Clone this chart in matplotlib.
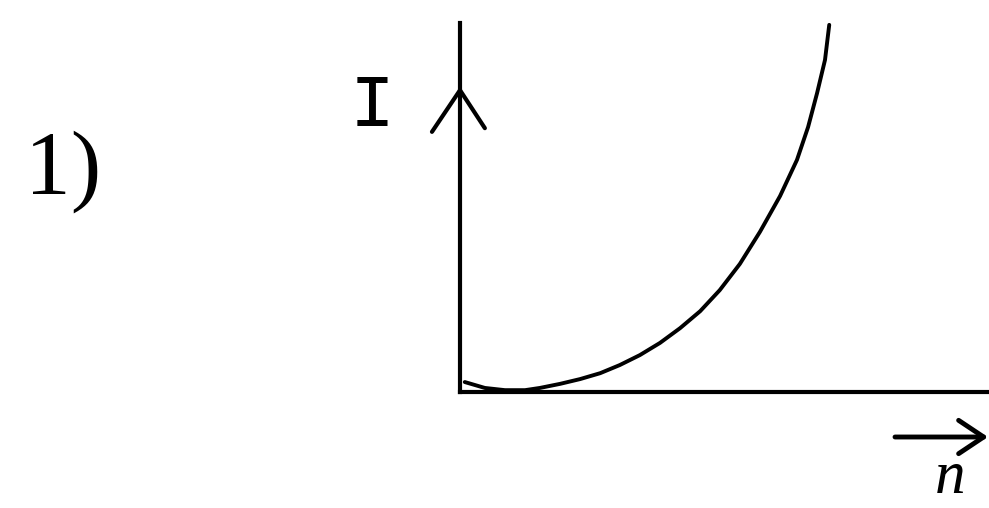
import matplotlib.pyplot as plt

# curve (n across, I up, both on a 0..10 scale)
n_vals = [0.09, 0.47, 0.85, 1.23, 1.51, 1.89, 2.27, 2.65, 3.02, 3.40, 3.78,
          4.16, 4.54, 4.91, 5.29, 5.67, 6.05, 6.37, 6.58, 6.75, 6.90, 6.98]
i_vals = [0.27, 0.11, 0.05, 0.05, 0.11, 0.22, 0.35, 0.51, 0.73, 1.00, 1.33,
          1.73, 2.19, 2.76, 3.47, 4.34, 5.31, 6.29, 7.18, 8.10, 9.00, 9.95]

# chevron drawn part-way up the I axis
arrow_n = [-0.53, 0.0, 0.47]
arrow_i = [7.05, 8.18, 7.15]

W, H = 989, 508
fig = plt.figure(figsize=(W / 100, H / 100), dpi=100)
ax = fig.add_axes([460 / W, (H - 392) / H, (W - 460) / W, (392 - 23) / H])
ax.plot(n_vals, i_vals, color="black", lw=2.8,
        solid_capstyle="round", solid_joinstyle="round")
ax.plot(arrow_n, arrow_i, color="black", lw=3, clip_on=False,
        solid_capstyle="round", solid_joinstyle="miter")
ax.set_xlim(0, 10)
ax.set_ylim(0, 10)
for side in ["top", "right"]:
    ax.spines[side].set_visible(False)
for side in ["left", "bottom"]:
    ax.spines[side].set_linewidth(3)
ax.set_xticks([])
ax.set_yticks([])

fig.text(63 / W, 1 - 172 / H, "1)", fontsize=66, family="Liberation Serif",
         ha="center", va="center")
fig.text(372 / W, 1 - 106 / H, "I", fontsize=54, family="Liberation Mono",
         ha="center", va="center")
fig.text(950 / W, 1 - 493 / H, "n", fontsize=44, family="Liberation Serif",
         style="italic", ha="center", va="baseline")
ax.annotate("", xy=(988, H - 437), xytext=(895, H - 437),
            xycoords="figure pixels", textcoords="figure pixels",
            arrowprops=dict(arrowstyle="->,head_length=1.8,head_width=1.2",
                            lw=3.5, color="black", shrinkA=0, shrinkB=0))

fig.savefig("out.png", dpi=100)
